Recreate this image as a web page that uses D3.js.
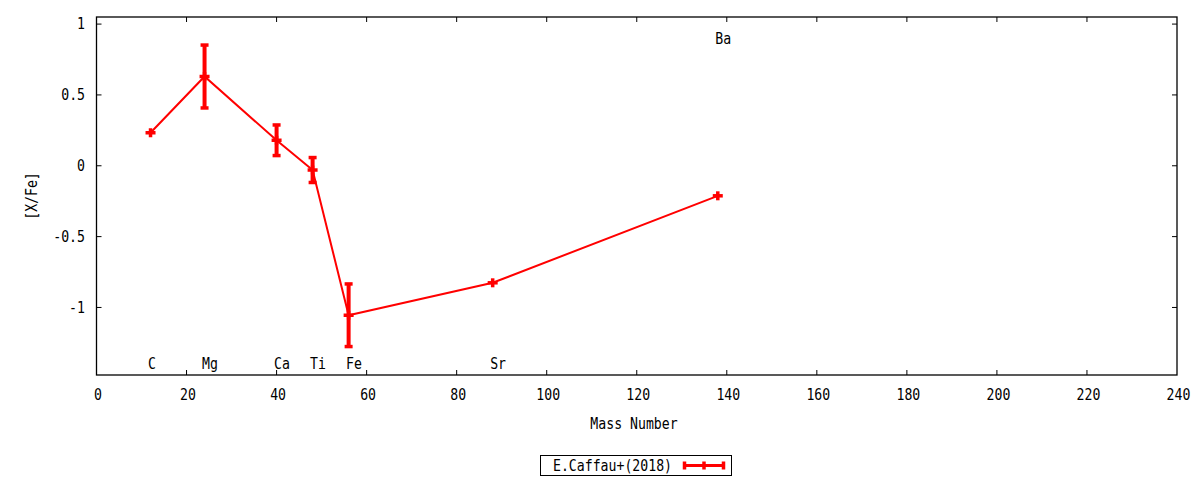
<!DOCTYPE html>
<html><head><meta charset="utf-8">
<script src="https://cdn.jsdelivr.net/npm/d3@7"></script>
<style>
body{margin:0;background:#fff;}
svg text{font-family:"DejaVu Sans Mono",monospace;font-size:15px;fill:#000;}
</style></head>
<body><svg id="c" width="1200" height="480"></svg>
<script>
const elements = ["C","Mg","Ca","Ti","Fe","Sr","Ba"];
const massNumbers = [12,24,40,48,56,88,138];
const xFe = [0.233,0.63,0.18,-0.03,-1.055,-0.826,-0.212];
const xFeErr = [0,0.222,0.108,0.088,0.221,0,0];
const labelY = [-1.4,-1.4,-1.4,-1.4,-1.4,-1.4,0.9];
const xTicks = [0,20,40,60,80,100,120,140,160,180,200,220,240];
const yTicks = [1,0.5,0,-0.5,-1];
const yTickLabels = ["1","0.5","0","-0.5","-1"];
const seriesName = "E.Caffau+(2018)";

const svg = d3.select("#c");
const L=96.5, R=1177, T=17, B=375;
const x = d3.scaleLinear().domain([0,240]).range([L,R]);
const y = d3.scaleLinear().domain([-1.4767,1.05]).range([B,T]);
const red = "#ff0000";

function txt(px, py, s, anchor, rot){
  const tr = `translate(${px},${py})` + (rot?` rotate(${rot})`:"") + " scale(0.88,1)";
  return svg.append("text").attr("transform",tr).attr("text-anchor",anchor||"start")
    .attr("dominant-baseline","central").text(s);
}

// ticks (inward, mirrored)
const tl = 5;
const g = svg.append("g").attr("stroke","#000").attr("stroke-width",1);
xTicks.forEach(t=>{
  if(t===0||t===240) return;
  g.append("line").attr("x1",x(t)).attr("x2",x(t)).attr("y1",B).attr("y2",B-tl);
  g.append("line").attr("x1",x(t)).attr("x2",x(t)).attr("y1",T).attr("y2",T+tl);
});
yTicks.forEach(t=>{
  g.append("line").attr("x1",L).attr("x2",L+tl).attr("y1",y(t)).attr("y2",y(t));
  g.append("line").attr("x1",R).attr("x2",R-tl).attr("y1",y(t)).attr("y2",y(t));
});
svg.append("rect").attr("x",L).attr("y",T).attr("width",R-L).attr("height",B-T)
  .attr("fill","none").attr("stroke","#000").attr("stroke-width",1.3);

// tick labels
xTicks.forEach(t=>{ txt(x(t)+1.5, 394.5, t, "middle"); });
yTicks.forEach((t,i)=>{ txt(85, y(t), yTickLabels[i], "end"); });

// axis titles
txt(634, 424, "Mass Number", "middle");
txt(32, 196, "[X/Fe]", "middle", -90);

// element labels
elements.forEach((e,i)=>{ txt(x(massNumbers[i])-2.5, y(labelY[i]), e, "start"); });

// data line
const data = massNumbers.map((m,i)=>({m, v:xFe[i], e:xFeErr[i]}));
svg.append("path").datum(data)
  .attr("d",d3.line().x(d=>x(d.m)).y(d=>y(d.v)))
  .attr("fill","none").attr("stroke",red).attr("stroke-width",2);

// error bars
const eb = svg.append("g").attr("stroke",red);
data.filter(d=>d.e>0).forEach(d=>{
  const cx=x(d.m);
  eb.append("line").attr("x1",cx).attr("x2",cx).attr("y1",y(d.v+d.e)).attr("y2",y(d.v-d.e)).attr("stroke-width",4);
  [d.v+d.e,d.v-d.e].forEach(v=>{
    eb.append("line").attr("x1",cx-4).attr("x2",cx+4).attr("y1",y(v)).attr("y2",y(v)).attr("stroke-width",3.5);
  });
});
// markers (plus)
data.forEach(d=>{
  const cx=x(d.m), cy=y(d.v);
  eb.append("line").attr("x1",cx-5).attr("x2",cx+5).attr("y1",cy).attr("y2",cy).attr("stroke-width",3.5);
  eb.append("line").attr("x1",cx).attr("x2",cx).attr("y1",cy-4.5).attr("y2",cy+4.5).attr("stroke-width",3.5);
});

// legend
svg.append("rect").attr("x",540.5).attr("y",455.5).attr("width",191).attr("height",20)
  .attr("fill","none").attr("stroke","#000").attr("stroke-width",1);
txt(553, 465.5, seriesName, "start");
const lg = svg.append("g").attr("stroke",red);
lg.append("line").attr("x1",683).attr("x2",725).attr("y1",465.5).attr("y2",465.5).attr("stroke-width",3);
[684.5,704,723.5].forEach(xx=>{
  lg.append("line").attr("x1",xx).attr("x2",xx).attr("y1",461.5).attr("y2",469.5).attr("stroke-width",3.5);
});
</script></body></html>
